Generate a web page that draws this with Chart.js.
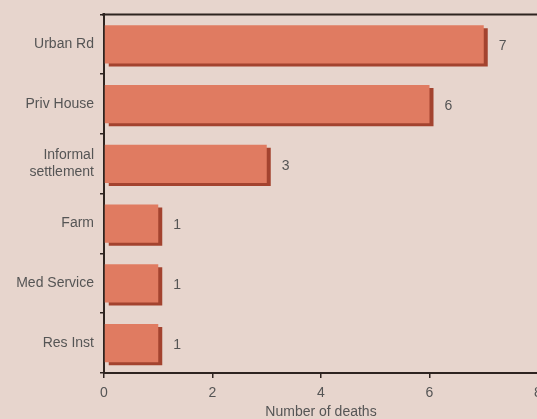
<!DOCTYPE html>
<html>
<head>
<meta charset="utf-8">
<script src="https://cdn.jsdelivr.net/npm/chart.js@4/dist/chart.umd.min.js"></script>
<style>
  html, body { margin: 0; padding: 0; background: #e7d5cd; overflow: hidden; }
  #deaths { display: block; }
</style>
</head>
<body>
<canvas id="deaths" width="543" height="421"></canvas>
<script>
const categories = ['Urban Rd', 'Priv House', ['Informal', 'settlement'], 'Farm', 'Med Service', 'Res Inst'];
const deaths = [7, 6, 3, 1, 1, 1];
const xTicks = [0, 2, 4, 6, 8];

const labelFont = { family: "'Liberation Sans', Arial, sans-serif", size: 14 };

// drop shadow under the bars (right + bottom edge), value labels, top frame line
const extras = {
  id: 'extras',
  beforeDatasetsDraw(chart) {
    const ctx = chart.ctx;
    ctx.save();
    ctx.shadowColor = '#a3432f';
    ctx.shadowOffsetX = 4;
    ctx.shadowOffsetY = 3;
    ctx.shadowBlur = 0;
  },
  afterDatasetsDraw(chart) {
    const ctx = chart.ctx;
    const area = chart.chartArea;
    ctx.restore();
    ctx.save();
    ctx.strokeStyle = '#2e2420';
    ctx.lineWidth = 2;
    ctx.beginPath();
    ctx.moveTo(area.left - 2, area.top);
    ctx.lineTo(area.right, area.top);
    ctx.stroke();

    ctx.fillStyle = '#555';
    ctx.font = "14px 'Liberation Sans', Arial, sans-serif";
    ctx.textBaseline = 'middle';
    chart.getDatasetMeta(0).data.forEach((bar, i) => {
      ctx.fillText(deaths[i], bar.x + 15, bar.y + 2);
    });
    ctx.restore();
  }
};

new Chart(document.getElementById('deaths'), {
  type: 'bar',
  data: {
    labels: categories,
    datasets: [{
      data: deaths,
      backgroundColor: '#e07b61',
      borderWidth: 0,
      categoryPercentage: 0.64,
      barPercentage: 1
    }]
  },
  options: {
    indexAxis: 'y',
    responsive: false,
    animation: false,
    layout: { padding: { top: 14, left: 0, right: 5, bottom: 0 } },
    plugins: {
      legend: { display: false },
      tooltip: { enabled: false }
    },
    scales: {
      x: {
        min: 0,
        max: 8,
        afterBuildTicks(scale) {
          scale.ticks = xTicks.map(v => ({ value: v }));
        },
        afterFit(scale) {
          scale.height = 48;
          scale.paddingLeft = 0;
          scale.paddingRight = 0;
        },
        grid: { drawOnChartArea: false, tickLength: 5, color: '#2e2420', lineWidth: 1.5 },
        border: { color: '#2e2420', width: 2 },
        ticks: { color: '#555', font: labelFont, padding: 7 },
        title: {
          display: true,
          text: 'Number of deaths',
          color: '#555',
          font: labelFont,
          padding: { top: 0, bottom: 0 }
        }
      },
      y: {
        afterFit(scale) { scale.width = 104; },
        grid: { drawOnChartArea: false, offset: true, tickLength: 4, color: '#2e2420', lineWidth: 1.5 },
        border: { color: '#2e2420', width: 2 },
        ticks: { color: '#555', font: labelFont, padding: 6 }
      }
    }
  },
  plugins: [extras]
});
</script>
</body>
</html>
